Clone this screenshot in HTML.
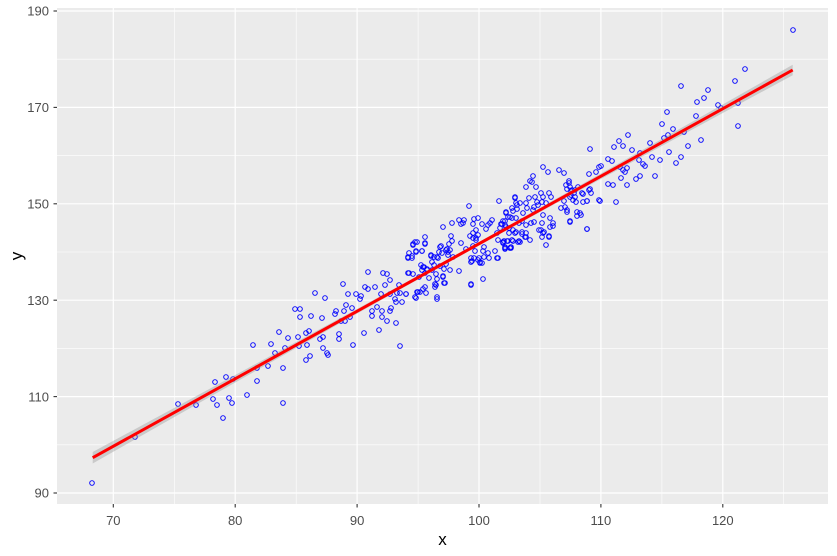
<!DOCTYPE html>
<html><head><meta charset="utf-8"><style>
html,body{margin:0;padding:0;background:#fff;}
svg{display:block;}
text{font-family:"Liberation Sans",Arial,sans-serif;}
</style></head><body>
<svg width="837" height="556" viewBox="0 0 837 556" xmlns="http://www.w3.org/2000/svg">
<rect x="0" y="0" width="837" height="556" fill="#fff"/>
<rect x="57" y="8" width="771" height="496" fill="#EBEBEB"/>
<g stroke="#fff" stroke-width="0.6">
<line x1="57" x2="828" y1="59.2" y2="59.2"/><line x1="57" x2="828" y1="155.6" y2="155.6"/><line x1="57" x2="828" y1="252" y2="252"/><line x1="57" x2="828" y1="348.4" y2="348.4"/><line x1="57" x2="828" y1="444.8" y2="444.8"/>
<line y1="8" y2="504" x1="174.3" x2="174.3"/><line y1="8" y2="504" x1="296.2" x2="296.2"/><line y1="8" y2="504" x1="418.1" x2="418.1"/><line y1="8" y2="504" x1="540" x2="540"/><line y1="8" y2="504" x1="661.9" x2="661.9"/><line y1="8" y2="504" x1="783.7" x2="783.7"/>
</g>
<g stroke="#fff" stroke-width="1.2">
<line x1="57" x2="828" y1="11" y2="11"/><line x1="57" x2="828" y1="107.4" y2="107.4"/><line x1="57" x2="828" y1="203.8" y2="203.8"/><line x1="57" x2="828" y1="300.2" y2="300.2"/><line x1="57" x2="828" y1="396.6" y2="396.6"/><line x1="57" x2="828" y1="493" y2="493"/>
<line y1="8" y2="504" x1="113.3" x2="113.3"/><line y1="8" y2="504" x1="235.2" x2="235.2"/><line y1="8" y2="504" x1="357.1" x2="357.1"/><line y1="8" y2="504" x1="479" x2="479"/><line y1="8" y2="504" x1="600.9" x2="600.9"/><line y1="8" y2="504" x1="722.8" x2="722.8"/>
</g>
<g fill="none" stroke="#0000FF" stroke-width="0.95">
<circle cx="92" cy="483" r="2.3"/><circle cx="135" cy="437" r="2.3"/><circle cx="178" cy="404" r="2.3"/><circle cx="196" cy="405" r="2.3"/><circle cx="213" cy="399" r="2.3"/><circle cx="217" cy="405" r="2.3"/><circle cx="223" cy="418" r="2.3"/><circle cx="215" cy="382" r="2.3"/><circle cx="226" cy="377" r="2.3"/><circle cx="233" cy="379" r="2.3"/><circle cx="229" cy="398" r="2.3"/><circle cx="232" cy="403" r="2.3"/><circle cx="247" cy="395" r="2.3"/><circle cx="257" cy="381" r="2.3"/><circle cx="253" cy="345" r="2.3"/><circle cx="257" cy="368" r="2.3"/><circle cx="268" cy="366" r="2.3"/><circle cx="271" cy="344" r="2.3"/><circle cx="275" cy="353" r="2.3"/><circle cx="283" cy="368" r="2.3"/><circle cx="283" cy="403" r="2.3"/><circle cx="279" cy="332" r="2.3"/><circle cx="285" cy="348" r="2.3"/><circle cx="288" cy="338" r="2.3"/><circle cx="295" cy="309" r="2.3"/><circle cx="300" cy="309" r="2.3"/><circle cx="300" cy="317" r="2.3"/><circle cx="298" cy="337" r="2.3"/><circle cx="299" cy="346" r="2.3"/><circle cx="311" cy="316" r="2.3"/><circle cx="315" cy="293" r="2.3"/><circle cx="306" cy="333" r="2.3"/><circle cx="309" cy="331" r="2.3"/><circle cx="307" cy="345" r="2.3"/><circle cx="306" cy="360" r="2.3"/><circle cx="310" cy="356" r="2.3"/>
<circle cx="325" cy="298" r="2.3"/><circle cx="322" cy="318" r="2.3"/><circle cx="336" cy="311" r="2.3"/><circle cx="335" cy="314" r="2.3"/><circle cx="344" cy="311" r="2.3"/><circle cx="346" cy="305" r="2.3"/><circle cx="343" cy="284" r="2.3"/><circle cx="348" cy="294" r="2.3"/><circle cx="356" cy="294" r="2.3"/><circle cx="361" cy="296" r="2.3"/><circle cx="360" cy="299" r="2.3"/><circle cx="352" cy="308" r="2.3"/><circle cx="350" cy="317" r="2.3"/><circle cx="345" cy="321" r="2.3"/><circle cx="341" cy="321" r="2.3"/><circle cx="339" cy="334" r="2.3"/><circle cx="339" cy="339" r="2.3"/><circle cx="323" cy="337" r="2.3"/><circle cx="320" cy="339" r="2.3"/><circle cx="323" cy="348" r="2.3"/><circle cx="327" cy="353" r="2.3"/><circle cx="328" cy="355" r="2.3"/><circle cx="353" cy="345" r="2.3"/><circle cx="364" cy="333" r="2.3"/><circle cx="379" cy="330" r="2.3"/><circle cx="368" cy="272" r="2.3"/><circle cx="365" cy="287" r="2.3"/><circle cx="368" cy="289" r="2.3"/><circle cx="375" cy="287" r="2.3"/><circle cx="383" cy="273" r="2.3"/><circle cx="387" cy="274" r="2.3"/><circle cx="390" cy="280" r="2.3"/><circle cx="385" cy="285" r="2.3"/><circle cx="381" cy="294" r="2.3"/><circle cx="372" cy="311" r="2.3"/><circle cx="372" cy="316" r="2.3"/><circle cx="382" cy="311" r="2.3"/><circle cx="382" cy="317" r="2.3"/><circle cx="377" cy="307" r="2.3"/><circle cx="387" cy="321" r="2.3"/><circle cx="390" cy="311" r="2.3"/><circle cx="391" cy="308" r="2.3"/><circle cx="396" cy="323" r="2.3"/><circle cx="400" cy="346" r="2.3"/><circle cx="390" cy="294" r="2.3"/><circle cx="395" cy="299" r="2.3"/><circle cx="399" cy="285" r="2.3"/><circle cx="400" cy="293" r="2.3"/><circle cx="397" cy="293" r="2.3"/><circle cx="396" cy="302" r="2.3"/><circle cx="402" cy="302" r="2.3"/><circle cx="406" cy="294" r="2.3"/><circle cx="409" cy="273" r="2.3"/><circle cx="413" cy="274" r="2.3"/><circle cx="416" cy="298" r="2.3"/><circle cx="417" cy="292" r="2.3"/><circle cx="420" cy="292" r="2.3"/><circle cx="426" cy="293" r="2.3"/><circle cx="425" cy="287" r="2.3"/><circle cx="436" cy="285" r="2.3"/><circle cx="437" cy="299" r="2.3"/><circle cx="408" cy="257" r="2.3"/><circle cx="412" cy="256" r="2.3"/><circle cx="416" cy="251" r="2.3"/><circle cx="413" cy="245" r="2.3"/><circle cx="417" cy="242" r="2.3"/><circle cx="425" cy="244" r="2.3"/><circle cx="422" cy="251" r="2.3"/><circle cx="421" cy="265" r="2.3"/><circle cx="423" cy="267" r="2.3"/><circle cx="427" cy="269" r="2.3"/><circle cx="425" cy="273" r="2.3"/><circle cx="431" cy="256" r="2.3"/><circle cx="437" cy="257" r="2.3"/><circle cx="432" cy="262" r="2.3"/><circle cx="436" cy="274" r="2.3"/><circle cx="443" cy="276" r="2.3"/><circle cx="445" cy="283" r="2.3"/><circle cx="440" cy="247" r="2.3"/><circle cx="442" cy="253" r="2.3"/><circle cx="446" cy="250" r="2.3"/><circle cx="446" cy="264" r="2.3"/><circle cx="440" cy="266" r="2.3"/>
<circle cx="469" cy="206" r="2.3"/><circle cx="499" cy="201" r="2.3"/><circle cx="515" cy="197" r="2.3"/><circle cx="517" cy="205" r="2.3"/><circle cx="513" cy="211" r="2.3"/><circle cx="510" cy="217" r="2.3"/><circle cx="506" cy="213" r="2.3"/><circle cx="505" cy="221" r="2.3"/><circle cx="502" cy="224" r="2.3"/><circle cx="506" cy="227" r="2.3"/><circle cx="509" cy="233" r="2.3"/><circle cx="515" cy="233" r="2.3"/><circle cx="518" cy="242" r="2.3"/><circle cx="507" cy="241" r="2.3"/><circle cx="503" cy="243" r="2.3"/><circle cx="505" cy="249" r="2.3"/><circle cx="510" cy="248" r="2.3"/><circle cx="495" cy="251" r="2.3"/><circle cx="498" cy="258" r="2.3"/><circle cx="489" cy="258" r="2.3"/><circle cx="488" cy="253" r="2.3"/><circle cx="483" cy="251" r="2.3"/><circle cx="490" cy="223" r="2.3"/><circle cx="492" cy="220" r="2.3"/><circle cx="488" cy="225" r="2.3"/><circle cx="482" cy="224" r="2.3"/><circle cx="478" cy="218" r="2.3"/><circle cx="474" cy="219" r="2.3"/><circle cx="473" cy="224" r="2.3"/><circle cx="464" cy="220" r="2.3"/><circle cx="461" cy="224" r="2.3"/><circle cx="459" cy="220" r="2.3"/><circle cx="463" cy="223" r="2.3"/><circle cx="452" cy="223" r="2.3"/><circle cx="443" cy="227" r="2.3"/><circle cx="451" cy="236" r="2.3"/><circle cx="452" cy="241" r="2.3"/><circle cx="449" cy="244" r="2.3"/><circle cx="441" cy="246" r="2.3"/><circle cx="439" cy="252" r="2.3"/><circle cx="448" cy="252" r="2.3"/><circle cx="447" cy="249" r="2.3"/><circle cx="450" cy="250" r="2.3"/><circle cx="448" cy="255" r="2.3"/><circle cx="453" cy="257" r="2.3"/><circle cx="461" cy="243" r="2.3"/><circle cx="466" cy="249" r="2.3"/><circle cx="470" cy="236" r="2.3"/><circle cx="473" cy="233" r="2.3"/><circle cx="476" cy="238" r="2.3"/><circle cx="478" cy="235" r="2.3"/><circle cx="473" cy="246" r="2.3"/><circle cx="475" cy="251" r="2.3"/><circle cx="479" cy="258" r="2.3"/><circle cx="471" cy="258" r="2.3"/><circle cx="472" cy="261" r="2.3"/><circle cx="480" cy="263" r="2.3"/><circle cx="484" cy="247" r="2.3"/><circle cx="483" cy="279" r="2.3"/><circle cx="471" cy="285" r="2.3"/><circle cx="459" cy="271" r="2.3"/><circle cx="450" cy="270" r="2.3"/><circle cx="444" cy="269" r="2.3"/><circle cx="443" cy="277" r="2.3"/><circle cx="444" cy="283" r="2.3"/><circle cx="435" cy="284" r="2.3"/><circle cx="435" cy="287" r="2.3"/><circle cx="437" cy="279" r="2.3"/><circle cx="432" cy="270" r="2.3"/><circle cx="434" cy="265" r="2.3"/><circle cx="434" cy="257" r="2.3"/><circle cx="438" cy="258" r="2.3"/><circle cx="431" cy="255" r="2.3"/><circle cx="425" cy="243" r="2.3"/><circle cx="425" cy="237" r="2.3"/><circle cx="413" cy="244" r="2.3"/><circle cx="415" cy="242" r="2.3"/><circle cx="409" cy="253" r="2.3"/><circle cx="416" cy="252" r="2.3"/><circle cx="422" cy="251" r="2.3"/><circle cx="412" cy="258" r="2.3"/><circle cx="408" cy="258" r="2.3"/><circle cx="424" cy="267" r="2.3"/><circle cx="422" cy="270" r="2.3"/><circle cx="427" cy="270" r="2.3"/><circle cx="408" cy="273" r="2.3"/><circle cx="429" cy="278" r="2.3"/><circle cx="419" cy="277" r="2.3"/><circle cx="423" cy="289" r="2.3"/><circle cx="418" cy="292" r="2.3"/><circle cx="406" cy="294" r="2.3"/><circle cx="415" cy="297" r="2.3"/><circle cx="437" cy="297" r="2.3"/>
<circle cx="543" cy="167" r="2.3"/><circle cx="548" cy="172" r="2.3"/><circle cx="559" cy="170" r="2.3"/><circle cx="564" cy="173" r="2.3"/><circle cx="589" cy="174" r="2.3"/><circle cx="596" cy="172" r="2.3"/><circle cx="599" cy="167" r="2.3"/><circle cx="533" cy="176" r="2.3"/><circle cx="530" cy="181" r="2.3"/><circle cx="536" cy="187" r="2.3"/><circle cx="526" cy="187" r="2.3"/><circle cx="532" cy="182" r="2.3"/><circle cx="515" cy="198" r="2.3"/><circle cx="516" cy="203" r="2.3"/><circle cx="520" cy="203" r="2.3"/><circle cx="526" cy="203" r="2.3"/><circle cx="529" cy="198" r="2.3"/><circle cx="535" cy="197" r="2.3"/><circle cx="537" cy="202" r="2.3"/><circle cx="541" cy="193" r="2.3"/><circle cx="543" cy="197" r="2.3"/><circle cx="542" cy="202" r="2.3"/><circle cx="549" cy="193" r="2.3"/><circle cx="551" cy="197" r="2.3"/><circle cx="546" cy="203" r="2.3"/><circle cx="538" cy="205" r="2.3"/><circle cx="534" cy="207" r="2.3"/><circle cx="533" cy="210" r="2.3"/><circle cx="527" cy="208" r="2.3"/><circle cx="523" cy="213" r="2.3"/><circle cx="517" cy="209" r="2.3"/><circle cx="512" cy="208" r="2.3"/><circle cx="506" cy="212" r="2.3"/><circle cx="508" cy="217" r="2.3"/><circle cx="512" cy="218" r="2.3"/><circle cx="516" cy="218" r="2.3"/><circle cx="503" cy="221" r="2.3"/><circle cx="501" cy="224" r="2.3"/><circle cx="500" cy="228" r="2.3"/><circle cx="505" cy="225" r="2.3"/><circle cx="509" cy="228" r="2.3"/><circle cx="513" cy="230" r="2.3"/><circle cx="519" cy="223" r="2.3"/><circle cx="522" cy="221" r="2.3"/><circle cx="526" cy="225" r="2.3"/><circle cx="531" cy="223" r="2.3"/><circle cx="534" cy="222" r="2.3"/><circle cx="542" cy="223" r="2.3"/><circle cx="543" cy="215" r="2.3"/><circle cx="550" cy="218" r="2.3"/><circle cx="553" cy="223" r="2.3"/><circle cx="550" cy="227" r="2.3"/><circle cx="541" cy="230" r="2.3"/><circle cx="543" cy="233" r="2.3"/><circle cx="542" cy="237" r="2.3"/><circle cx="549" cy="237" r="2.3"/><circle cx="546" cy="245" r="2.3"/><circle cx="530" cy="240" r="2.3"/><circle cx="525" cy="237" r="2.3"/><circle cx="526" cy="233" r="2.3"/><circle cx="522" cy="232" r="2.3"/><circle cx="519" cy="241" r="2.3"/><circle cx="512" cy="240" r="2.3"/><circle cx="508" cy="241" r="2.3"/><circle cx="504" cy="241" r="2.3"/><circle cx="505" cy="247" r="2.3"/><circle cx="511" cy="247" r="2.3"/><circle cx="498" cy="240" r="2.3"/><circle cx="497" cy="233" r="2.3"/><circle cx="566" cy="185" r="2.3"/><circle cx="569" cy="183" r="2.3"/><circle cx="567" cy="189" r="2.3"/><circle cx="571" cy="191" r="2.3"/><circle cx="575" cy="190" r="2.3"/><circle cx="578" cy="187" r="2.3"/><circle cx="582" cy="193" r="2.3"/><circle cx="589" cy="190" r="2.3"/><circle cx="591" cy="193" r="2.3"/><circle cx="583" cy="202" r="2.3"/><circle cx="587" cy="201" r="2.3"/><circle cx="599" cy="200" r="2.3"/><circle cx="570" cy="197" r="2.3"/><circle cx="576" cy="202" r="2.3"/><circle cx="564" cy="201" r="2.3"/><circle cx="565" cy="207" r="2.3"/><circle cx="567" cy="210" r="2.3"/><circle cx="577" cy="212" r="2.3"/><circle cx="581" cy="215" r="2.3"/><circle cx="570" cy="221" r="2.3"/><circle cx="587" cy="229" r="2.3"/><circle cx="561" cy="208" r="2.3"/>
<circle cx="471" cy="284" r="2.3"/><circle cx="497" cy="258" r="2.3"/><circle cx="505" cy="248" r="2.3"/><circle cx="511" cy="248" r="2.3"/><circle cx="503" cy="242" r="2.3"/><circle cx="513" cy="241" r="2.3"/><circle cx="520" cy="242" r="2.3"/><circle cx="522" cy="234" r="2.3"/><circle cx="516" cy="232" r="2.3"/><circle cx="526" cy="237" r="2.3"/><circle cx="539" cy="230" r="2.3"/><circle cx="544" cy="232" r="2.3"/><circle cx="549" cy="236" r="2.3"/><circle cx="553" cy="226" r="2.3"/><circle cx="486" cy="229" r="2.3"/><circle cx="476" cy="230" r="2.3"/><circle cx="484" cy="257" r="2.3"/><circle cx="480" cy="262" r="2.3"/><circle cx="482" cy="263" r="2.3"/><circle cx="478" cy="260" r="2.3"/><circle cx="474" cy="258" r="2.3"/><circle cx="471" cy="262" r="2.3"/><circle cx="473" cy="238" r="2.3"/><circle cx="476" cy="240" r="2.3"/>
<circle cx="745" cy="69" r="2.3"/><circle cx="735" cy="81" r="2.3"/><circle cx="681" cy="86" r="2.3"/><circle cx="708" cy="90" r="2.3"/><circle cx="704" cy="98" r="2.3"/><circle cx="697" cy="102" r="2.3"/><circle cx="718" cy="105" r="2.3"/><circle cx="738" cy="103" r="2.3"/><circle cx="721" cy="108" r="2.3"/><circle cx="738" cy="126" r="2.3"/><circle cx="667" cy="112" r="2.3"/><circle cx="696" cy="116" r="2.3"/><circle cx="662" cy="124" r="2.3"/><circle cx="673" cy="129" r="2.3"/><circle cx="684" cy="132" r="2.3"/><circle cx="668" cy="135" r="2.3"/><circle cx="664" cy="138" r="2.3"/><circle cx="701" cy="140" r="2.3"/><circle cx="628" cy="135" r="2.3"/><circle cx="619" cy="141" r="2.3"/><circle cx="614" cy="147" r="2.3"/><circle cx="623" cy="146" r="2.3"/><circle cx="650" cy="143" r="2.3"/><circle cx="590" cy="149" r="2.3"/><circle cx="632" cy="150" r="2.3"/><circle cx="688" cy="146" r="2.3"/><circle cx="669" cy="152" r="2.3"/><circle cx="681" cy="157" r="2.3"/><circle cx="676" cy="163" r="2.3"/><circle cx="660" cy="160" r="2.3"/><circle cx="652" cy="157" r="2.3"/><circle cx="639" cy="160" r="2.3"/><circle cx="640" cy="153" r="2.3"/><circle cx="643" cy="164" r="2.3"/><circle cx="645" cy="166" r="2.3"/><circle cx="655" cy="176" r="2.3"/><circle cx="640" cy="176" r="2.3"/><circle cx="636" cy="179" r="2.3"/><circle cx="627" cy="185" r="2.3"/><circle cx="621" cy="178" r="2.3"/><circle cx="608" cy="159" r="2.3"/><circle cx="612" cy="161" r="2.3"/><circle cx="601" cy="166" r="2.3"/><circle cx="608" cy="184" r="2.3"/><circle cx="613" cy="185" r="2.3"/><circle cx="600" cy="201" r="2.3"/><circle cx="616" cy="202" r="2.3"/><circle cx="590" cy="189" r="2.3"/><circle cx="587" cy="201" r="2.3"/><circle cx="583" cy="194" r="2.3"/><circle cx="587" cy="229" r="2.3"/><circle cx="580" cy="213" r="2.3"/><circle cx="577" cy="216" r="2.3"/><circle cx="570" cy="222" r="2.3"/><circle cx="567" cy="212" r="2.3"/><circle cx="569" cy="181" r="2.3"/><circle cx="570" cy="187" r="2.3"/><circle cx="572" cy="190" r="2.3"/><circle cx="574" cy="193" r="2.3"/><circle cx="571" cy="195" r="2.3"/><circle cx="575" cy="197" r="2.3"/><circle cx="573" cy="200" r="2.3"/><circle cx="620" cy="167" r="2.3"/><circle cx="623" cy="170" r="2.3"/><circle cx="625" cy="172" r="2.3"/><circle cx="627" cy="168" r="2.3"/><circle cx="793" cy="30" r="2.3"/>
</g>
<polygon fill="#999999" fill-opacity="0.4" points="92.7,451.96 150,421.02 200,394.01 250,366.98 300,339.9 350,312.76 400,285.49 450,258.0 500,230.22 550,202.18 600,173.98 650,145.69 700,117.35 750,88.99 792.7,64.75 792.7,75.25 750,98.31 700,125.33 650,152.37 600,179.48 550,206.66 500,234.0 450,261.62 400,289.51 350,317.62 300,345.86 250,374.18 200,402.53 150,430.9 92.7,463.44"/>
<line x1="92.7" y1="457.7" x2="792.7" y2="70" stroke="#FF0000" stroke-width="3"/>
<g stroke="#333333" stroke-width="1.1">
<line x1="53.5" x2="57" y1="11" y2="11"/><line x1="53.5" x2="57" y1="107.4" y2="107.4"/><line x1="53.5" x2="57" y1="203.8" y2="203.8"/><line x1="53.5" x2="57" y1="300.2" y2="300.2"/><line x1="53.5" x2="57" y1="396.6" y2="396.6"/><line x1="53.5" x2="57" y1="493" y2="493"/>
<line y1="504" y2="507.5" x1="113.3" x2="113.3"/><line y1="504" y2="507.5" x1="235.2" x2="235.2"/><line y1="504" y2="507.5" x1="357.1" x2="357.1"/><line y1="504" y2="507.5" x1="479" x2="479"/><line y1="504" y2="507.5" x1="600.9" x2="600.9"/><line y1="504" y2="507.5" x1="722.8" x2="722.8"/>
</g>
<g fill="#4D4D4D" font-size="13" text-anchor="end">
<text x="49" y="15.7">190</text><text x="49" y="112.1">170</text><text x="49" y="208.5">150</text><text x="49" y="304.9">130</text><text x="49" y="401.3">110</text><text x="49" y="497.7">90</text>
</g>
<g fill="#4D4D4D" font-size="13" text-anchor="middle">
<text x="113.3" y="525">70</text><text x="235.2" y="525">80</text><text x="357.1" y="525">90</text><text x="479" y="525">100</text><text x="600.9" y="525">110</text><text x="722.8" y="525">120</text>
</g>
<text x="442.5" y="545" font-size="17" text-anchor="middle" fill="#000">x</text>
<text x="0" y="0" font-size="17" text-anchor="middle" fill="#000" transform="translate(22,256) rotate(-90)">y</text>
</svg>
</body></html>
